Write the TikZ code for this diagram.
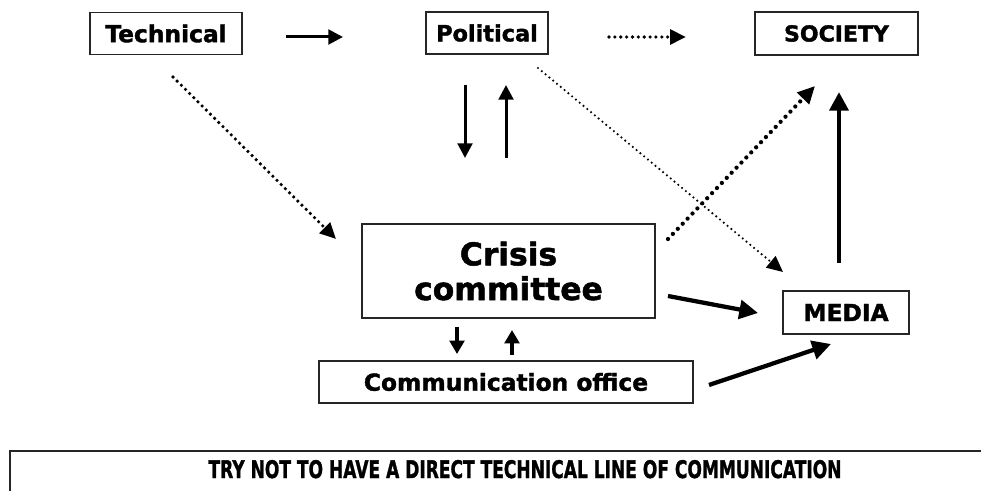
\documentclass[tikz,border=0pt]{standalone}
\usepackage{fontspec}
\setmainfont{DejaVu Sans}
\newfontfamily\heavyfam{DejaVu Sans}[BoldFeatures={FakeBold=1.6}]
\newcommand\heavy{\heavyfam\bfseries}
\usetikzlibrary{arrows.meta}
\begin{document}
\begin{tikzpicture}[x=0.75pt,y=-0.75pt,
  box/.style={draw=black!85,line width=1.1pt,fill=white,inner sep=0pt,align=center,font=\heavy},
  solidarrow/.style={line width=2.25pt,-{Triangle[length=11pt,width=11pt]}},
  bigarrow/.style={line width=3.6pt,-{Triangle[length=14pt,width=14pt]}},
  smallarrow/.style={line width=2.4pt,-{Triangle[length=10pt,width=11pt]}},
  finedots/.style={line width=1.8pt,line cap=round,dash pattern=on 0pt off 3.7pt,-{Triangle[length=12pt,width=11pt]}},
  middots/.style={line width=2.7pt,line cap=round,dash pattern=on 0pt off 4.4pt,-{Triangle[length=12pt,width=11pt]}},
  bigdots/.style={line width=3.2pt,line cap=round,dash pattern=on 0pt off 5.3pt,-{Triangle[length=13pt,width=12pt]}}]
\useasboundingbox (0,0) rectangle (981,491);

% boxes
\node[box,minimum width=114pt,minimum height=31.5pt,font=\heavy\fontsize{17.5}{20}\selectfont] (tech) at (166,33.5) {Technical};
\node[box,minimum width=91.5pt,minimum height=31.5pt,font=\heavy\fontsize{16.8}{20}\selectfont] (pol) at (487,33) {Political};
\node[box,minimum width=122.25pt,minimum height=32.25pt,font=\heavy\fontsize{16.5}{19}\selectfont] (soc) at (836.5,33.5) {SOCIETY};
\node[box,minimum width=219.75pt,minimum height=70.5pt,font=\heavy\fontsize{23.5}{26}\selectfont] (crisis) at (508.5,271) {Crisis\\committee};
\node[box,minimum width=280.5pt,minimum height=31.5pt,font=\heavy\fontsize{17.5}{19}\selectfont] (comm) at (506,382) {Communication office};
\node[box,minimum width=94.5pt,minimum height=32.25pt,font=\heavy\fontsize{17.5}{19}\selectfont] (media) at (846,312.5) {MEDIA};

% connector end points
\coordinate (tp1) at (286,37);   \coordinate (tp2) at (343,37);
\coordinate (ps1) at (609,37);   \coordinate (ps2) at (686,37);
\coordinate (tc1) at (173,77);   \coordinate (tc2) at (336,239);
\coordinate (pd1) at (465,85);   \coordinate (pd2) at (465,158);
\coordinate (pu1) at (506,158);  \coordinate (pu2) at (506,85);
\coordinate (pm1) at (538,68);   \coordinate (pm2) at (783,272);
\coordinate (cs1) at (668,239);  \coordinate (cs2) at (815,86);
\coordinate (ms1) at (839,263);  \coordinate (ms2) at (839,92);
\coordinate (cm1) at (668,296);  \coordinate (cm2) at (758,313);
\coordinate (om1) at (709,385);  \coordinate (om2) at (831,344);
\coordinate (cd1) at (457,327);  \coordinate (cd2) at (457,354);
\coordinate (cu1) at (512,355);  \coordinate (cu2) at (512,330);

% connectors
\draw[solidarrow] (tp1) -- (tp2);
\draw[middots] (ps1) -- (ps2);
\draw[middots] (tc1) -- (tc2);
\draw[solidarrow] (pd1) -- (pd2);
\draw[solidarrow] (pu1) -- (pu2);
\draw[finedots] (pm1) -- (pm2);
\draw[bigdots] (cs1) -- (cs2);
\draw[bigarrow] (ms1) -- (ms2);
\draw[bigarrow,line width=3.2pt] (cm1) -- (cm2);
\draw[bigarrow,line width=3.2pt] (om1) -- (om2);
\draw[smallarrow] (cd1) -- (cd2);
\draw[smallarrow] (cu1) -- (cu2);

% note bar
\coordinate (barL) at (10,491);
\coordinate (barC) at (10,451);
\coordinate (barR) at (981,451);
\draw[line width=1.5pt,black!85] (barL) -- (barC) -- (barR);
\node[font=\heavy\fontsize{18}{19}\selectfont,inner sep=0pt,anchor=base] (note) at (525,478)
  {\resizebox{474.75pt}{13.5pt}{TRY NOT TO HAVE A DIRECT TECHNICAL LINE OF COMMUNICATION}};
\end{tikzpicture}
\end{document}
